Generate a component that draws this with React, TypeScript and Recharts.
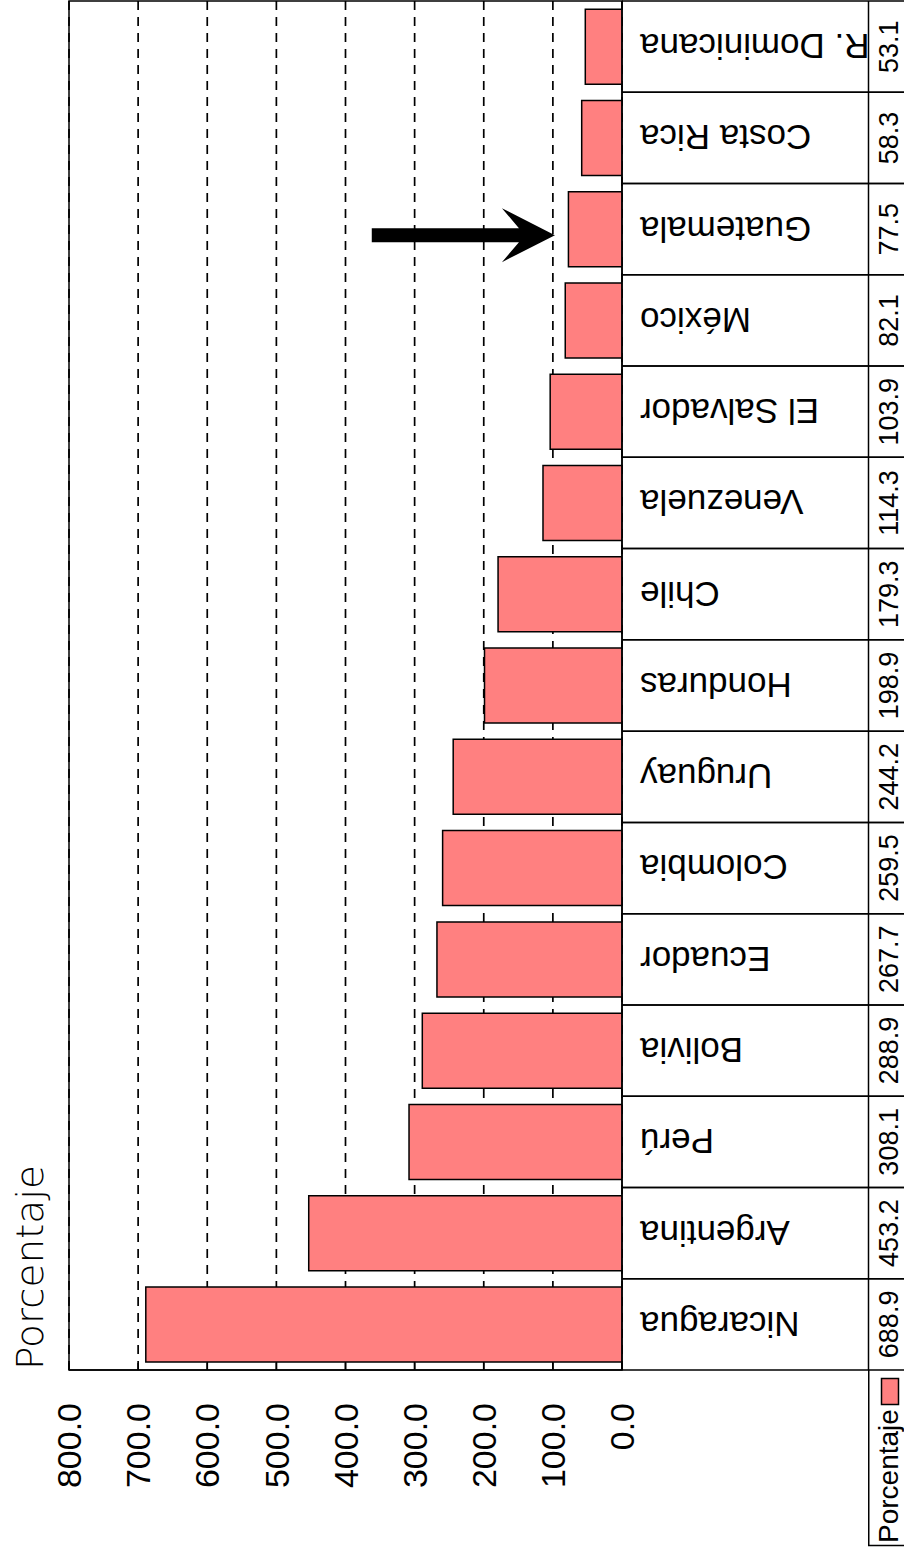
import React from 'react';
import {
  BarChart,
  Bar,
  XAxis,
  YAxis,
  CartesianGrid,
  ReferenceLine,
  ReferenceArea,
  Legend,
} from 'recharts';

// ---- Data ----
const paises = [
  'Nicaragua',
  'Argentina',
  'Perú',
  'Bolivia',
  'Ecuador',
  'Colombia',
  'Uruguay',
  'Honduras',
  'Chile',
  'Venezuela',
  'El Salvador',
  'México',
  'Guatemala',
  'Costa Rica',
  'R. Dominicana',
];
const porcentajes = [688.9, 453.2, 308.1, 288.9, 267.7, 259.5, 244.2, 198.9, 179.3, 114.3, 103.9, 82.1, 77.5, 58.3, 53.1];
const valueTicks = [0, 100, 200, 300, 400, 500, 600, 700, 800];
const seriesName = 'Porcentaje';
const axisTitle = 'Porcentaje';
const arrowTarget = 'Guatemala';
const arrowFrom = 362;
const arrowTo = 97;

const data = paises.map((p, i) => ({ pais: p, valor: porcentajes[i] }));

const FONT = '"Liberation Sans", Arial, sans-serif';
const LW = 1.5;

const XTick = (props: any) => {
  const { x, y, payload } = props;
  const ly = y + 33;
  return (
    <g>
      <line x1={x} x2={x} y1={y} y2={y - 7} stroke="#000" strokeWidth={LW} />
      <text
        x={x}
        y={ly}
        transform={`rotate(-90, ${x}, ${ly})`}
        textAnchor="end"
        dy="0.36em"
        fontSize={34}
        fontFamily={FONT}
        fill="#000"
      >
        {Number(payload.value).toFixed(1)}
      </text>
    </g>
  );
};

const YTick = (props: any) => {
  const { x, y, payload } = props;
  const half = payload && typeof payload.offset === 'number' && payload.offset > 0 ? payload.offset : 45.6;
  const top = y - half;
  const bottom = y + half;
  const idx = paises.indexOf(payload.value);
  const val = idx >= 0 ? porcentajes[idx] : 0;
  const nx = x + 18;
  const vx = x + 266;
  return (
    <g>
      <line x1={x} x2={x + 282} y1={top} y2={top} stroke="#000" strokeWidth={LW} />
      <line x1={x} x2={x + 282} y1={bottom} y2={bottom} stroke="#000" strokeWidth={LW} />
      <line x1={x + 246.5} x2={x + 246.5} y1={top} y2={bottom} stroke="#000" strokeWidth={LW} />
      <text
        x={nx}
        y={y}
        transform={`rotate(180, ${nx}, ${y})`}
        textAnchor="end"
        dy="0.36em"
        fontSize={35}
        fontFamily={FONT}
        fill="#000"
      >
        {payload.value}
      </text>
      <text
        x={vx}
        y={y}
        transform={`rotate(-90, ${vx}, ${y})`}
        textAnchor="middle"
        dy="0.36em"
        fontSize={27}
        fontFamily={FONT}
        fill="#000"
      >
        {val.toFixed(1)}
      </text>
    </g>
  );
};

const renderTitle = (props: any) => {
  const vb = props.viewBox || { x: 69, y: 1370 };
  const tx = vb.x - 26;
  const ty = vb.y;
  return (
    <text
      x={tx}
      y={ty}
      transform={`rotate(-90, ${tx}, ${ty})`}
      textAnchor="start"
      fontSize={38}
      fontWeight={200}
      fontFamily='"DejaVu Sans", sans-serif'
      textLength={205}
      lengthAdjust="spacingAndGlyphs"
      fill="#000"
    >
      {axisTitle}
    </text>
  );
};

const renderLegend = (props: any) => {
  const label = (props && props.payload && props.payload[0] && props.payload[0].value) || seriesName;
  return (
    <svg width={36} height={180} style={{ display: 'block', overflow: 'visible' }}>
      <line x1={0.75} x2={0.75} y1={0} y2={175} stroke="#000" strokeWidth={LW} />
      <line x1={0} x2={36} y1={175.5} y2={175.5} stroke="#000" strokeWidth={LW} />
      <text
        x={20}
        y={173}
        transform="rotate(-90, 20, 173)"
        textAnchor="start"
        dy="0.36em"
        fontSize={28}
        fontFamily={FONT}
        fill="#000"
      >
        {label}
      </text>
      <rect x={13.5} y={8.5} width={17} height={26} fill="#FF8080" stroke="#000" strokeWidth={LW} />
    </svg>
  );
};

const ArrowShape = (props: any) => {
  const { x1, y1, x2 } = props;
  if (typeof x1 !== 'number' || typeof x2 !== 'number') return <g />;
  const yc = y1 + 6;
  const d = [
    `M ${x1} ${yc - 7}`,
    `L ${x2 - 36} ${yc - 7}`,
    `L ${x2 - 53} ${yc - 27}`,
    `L ${x2} ${yc}`,
    `L ${x2 - 53} ${yc + 27}`,
    `L ${x2 - 36} ${yc + 7}`,
    `L ${x1} ${yc + 7}`,
    'Z',
  ].join(' ');
  return <path d={d} fill="#000" stroke="none" />;
};

export default function App() {
  return (
    <div style={{ position: 'absolute', left: 0, top: 0, width: 904, height: 1552, background: '#fff' }}>
      <BarChart
        width={904}
        height={1552}
        data={data}
        layout="vertical"
        margin={{ top: 1, right: 0, bottom: 0, left: 69 }}
        barCategoryGap="9%"
      >
        <CartesianGrid horizontal={false} stroke="#000" strokeWidth={1.7} strokeDasharray="9 7" />
        <XAxis
          type="number"
          domain={[0, 800]}
          ticks={valueTicks}
          reversed
          interval={0}
          tickLine={false}
          tickSize={0}
          tickMargin={0}
          axisLine={{ stroke: '#000', strokeWidth: LW }}
          height={182}
          tick={XTick}
          label={renderTitle}
          allowDataOverflow
        />
        <YAxis
          type="category"
          dataKey="pais"
          orientation="right"
          width={282}
          reversed
          interval={0}
          tickLine={false}
          tickSize={0}
          tickMargin={0}
          axisLine={{ stroke: '#000', strokeWidth: LW }}
          tick={YTick}
        />
        <ReferenceArea x1={0} x2={800} fill="none" stroke="#000" strokeWidth={LW} fillOpacity={0} />
        <Bar
          dataKey="valor"
          name={seriesName}
          fill="#FF8080"
          stroke="#000"
          strokeWidth={LW}
          isAnimationActive={false}
        />
        <ReferenceLine
          segment={[
            { x: arrowFrom, y: arrowTarget },
            { x: arrowTo, y: arrowTarget },
          ]}
          shape={ArrowShape}
          ifOverflow="visible"
        />
        <Legend
          layout="vertical"
          align="center"
          verticalAlign="middle"
          content={renderLegend}
          wrapperStyle={{ left: 868, top: 1370, width: 36, height: 180 }}
        />
      </BarChart>
    </div>
  );
}
